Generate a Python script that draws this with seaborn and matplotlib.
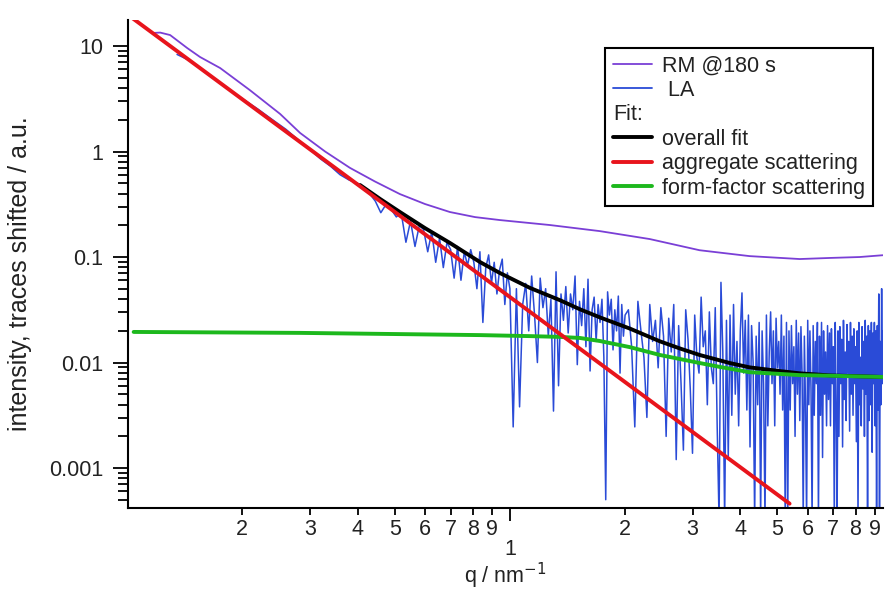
import numpy as np
import seaborn as sns
import matplotlib.pyplot as plt
from matplotlib.lines import Line2D
from matplotlib.ticker import LogLocator, FuncFormatter

# RM @180 s trace
rm_q = [0.117, 0.122, 0.1295, 0.1435, 0.155, 0.175, 0.209, 0.251, 0.283, 0.329, 0.382,
        0.444, 0.516, 0.600, 0.697, 0.811, 0.942, 1.272, 1.718, 2.32, 3.13, 4.23, 5.72,
        6.85, 8.20, 9.42]
rm_i = [13.3, 13.4, 12.7, 9.57, 7.87, 6.18, 3.83, 2.27, 1.50, 1.00, 0.70,
        0.52, 0.395, 0.318, 0.267, 0.239, 0.224, 0.201, 0.176, 0.148, 0.116, 0.102, 0.0957,
        0.098, 0.100, 0.104]

# LA trace, q values and log10 of intensity
la_q = [0.135, 0.146, 0.16, 0.18, 0.20, 0.22, 0.24, 0.26, 0.28, 0.30, 0.32, 0.34, 0.36, 0.38,
        0.400, 0.415, 0.430, 0.445, 0.460, 0.475, 0.490, 0.505, 0.520, 0.535, 0.550, 0.565,
        0.580, 0.595, 0.610, 0.625, 0.640, 0.655, 0.670, 0.685, 0.700, 0.715, 0.730, 0.745,
        0.760, 0.775, 0.790, 0.805, 0.820, 0.835, 0.850, 0.865, 0.880, 0.895, 0.910, 0.925,
        0.940, 0.955, 0.970, 0.985, 1.000,
        1.02, 1.04, 1.06, 1.08, 1.10, 1.12, 1.14, 1.16, 1.18, 1.20,
        1.22, 1.24, 1.26, 1.28, 1.30, 1.32, 1.34, 1.36, 1.38, 1.40,
        1.42, 1.44, 1.46, 1.48, 1.50, 1.52, 1.54, 1.56, 1.58, 1.60,
        1.62, 1.64, 1.66, 1.68, 1.70, 1.72, 1.74, 1.76, 1.78, 1.80,
        1.82, 1.84, 1.86, 1.88, 1.90, 1.92, 1.94, 1.96, 1.98, 2.00,
        2.04, 2.08, 2.12, 2.16, 2.20, 2.24, 2.28, 2.32, 2.36, 2.40,
        2.44, 2.48, 2.52, 2.56, 2.60, 2.64, 2.68, 2.72, 2.76, 2.80,
        2.84, 2.88, 2.92, 2.96, 3.00, 3.04, 3.08, 3.12, 3.16, 3.20,
        3.24, 3.28, 3.32, 3.36, 3.40, 3.44, 3.48, 3.52, 3.56, 3.60,
        3.64, 3.68, 3.72, 3.76, 3.80, 3.84, 3.88, 3.92, 3.96, 4.00,
        4.04, 4.08, 4.12, 4.16, 4.20, 4.24, 4.28, 4.32, 4.36, 4.40,
        4.44, 4.48, 4.52, 4.56, 4.60, 4.64, 4.68, 4.72, 4.76, 4.80,
        4.84, 4.88, 4.92, 4.96, 5.00, 5.04, 5.08, 5.12, 5.16, 5.20,
        5.24, 5.28, 5.32, 5.36, 5.40, 5.44, 5.48, 5.52, 5.56, 5.60,
        5.64, 5.68, 5.72, 5.76, 5.80, 5.84, 5.88, 5.92, 5.96, 6.00,
        6.04, 6.08, 6.12, 6.16, 6.20, 6.24, 6.28, 6.32, 6.36, 6.40,
        6.44, 6.48, 6.52, 6.56, 6.60, 6.64, 6.68, 6.72, 6.76, 6.80,
        6.84, 6.88, 6.92, 6.96, 7.00, 7.04, 7.08, 7.12, 7.16, 7.20,
        7.24, 7.28, 7.32, 7.36, 7.40, 7.44, 7.48, 7.52, 7.56, 7.60,
        7.64, 7.68, 7.72, 7.76, 7.80, 7.84, 7.88, 7.92, 7.96, 8.00,
        8.04, 8.08, 8.12, 8.16, 8.20, 8.24, 8.28, 8.32, 8.36, 8.40,
        8.44, 8.48, 8.52, 8.56, 8.60, 8.64, 8.68, 8.72, 8.76, 8.80,
        8.84, 8.88, 8.92, 8.96, 9.00, 9.04, 9.08, 9.12, 9.16, 9.20,
        9.24, 9.28, 9.32, 9.36, 9.40, 9.44]
la_log_i = [0.92, 0.86, 0.75, 0.62, 0.50, 0.40, 0.30, 0.21, 0.11, 0.02, -0.07, -0.14, -0.22, -0.27,
            -0.30, -0.36, -0.40, -0.47, -0.58, -0.50, -0.55, -0.62, -0.58, -0.86, -0.66, -0.90,
            -0.70, -0.74, -0.95, -0.76, -1.05, -0.82, -1.10, -0.86, -0.93, -1.20, -0.90, -1.22,
            -0.95, -1.08, -0.93, -1.05, -1.30, -0.95, -1.62, -1.10, -0.98, -1.25, -1.05, -1.35,
            -1.12, -1.02, -1.45, -1.15, -1.30,
            -2.61, -1.30, -2.42, -1.45, -1.25, -1.70, -1.18, -1.55, -2.00, -1.20,
            -1.48, -1.30, -1.75, -1.40, -2.46, -1.14, -2.22, -1.35, -1.60, -1.28,
            -1.72, -1.35, -1.50, -1.18, -2.02, -1.42, -1.65, -1.30, -1.85, -1.21,
            -2.08, -1.50, -1.38, -1.80, -1.45, -1.62, -1.40, -1.95, -3.30, -1.33,
            -1.55, -1.40, -1.88, -1.50, -1.70, -1.37, -2.10, -1.45, -1.75, -1.55,
            -1.50, -1.85, -2.61, -1.42, -1.70, -1.95, -2.52, -1.45, -1.80, -1.60,
            -2.05, -1.48, -1.75, -2.70, -1.58, -1.90, -1.45, -2.92, -1.65, -2.20,
            -2.83, -1.50, -1.78, -2.25, -2.86, -1.55, -1.95, -2.10, -1.38, -1.85,
            -1.70, -2.40, -1.52, -2.05, -2.20, -1.48, -2.60, -3.50, -1.24, -1.90,
            -3.50, -1.60, -2.90, -1.55, -2.50, -1.45, -2.30, -1.80, -2.60, -1.70,
            -1.34, -2.10, -1.60, -2.45, -1.55, -2.80, -1.65, -2.00, -3.50, -1.75,
            -2.40, -1.62, -3.50, -1.70, -2.20, -3.50, -1.55, -2.60, -1.90, -1.52,
            -2.20, -1.70, -2.60, -1.58, -2.05, -1.80, -2.30, -1.55, -2.45, -1.75,
            -3.50, -1.62, -3.50, -1.70, -2.45, -1.65, -2.20, -1.85, -2.70, -1.60,
            -2.30, -1.72, -2.55, -1.66, -2.10, -3.50, -1.75, -2.40, -3.50, -1.60,
            -2.40, -1.70, -2.25, -3.50, -1.65, -2.50, -1.80, -2.20, -1.62, -3.50,
            -1.75, -2.50, -1.62, -2.90, -1.70, -2.30, -1.90, -2.60, -1.65, -2.35,
            -1.72, -2.60, -1.68, -2.20, -1.85, -3.50, -1.62, -2.40, -3.50, -1.70,
            -2.70, -1.66, -2.20, -1.78, -2.80, -1.60, -2.35, -1.90, -2.55, -1.64,
            -2.10, -1.80, -2.65, -1.62, -2.30, -1.75, -2.50, -1.68, -2.20, -1.85,
            -2.75, -1.70, -3.50, -1.62, -2.40, -1.95, -2.60, -1.66, -2.25, -1.80,
            -2.70, -1.60, -2.30, -1.75, -3.50, -1.65, -2.55, -1.70, -2.40, -1.62,
            -2.85, -1.72, -2.20, -1.62, -2.60, -1.70, -3.50, -1.65, -2.45, -1.35,
            -3.50, -1.80, -2.40, -1.30, -2.20, -1.70]
la_i = 10 ** np.array(la_log_i)

# fits
fit_q = [0.406, 0.458, 0.516, 0.600, 0.697, 0.835, 0.942, 1.128, 1.351, 1.523, 1.718,
         2.057, 2.464, 2.78, 3.13, 3.75, 4.23, 5.07, 5.72, 6.85, 9.42]
fit_i = [0.481, 0.355, 0.267, 0.188, 0.136, 0.0897, 0.0705, 0.051, 0.039, 0.032, 0.0268,
         0.021, 0.0159, 0.0136, 0.0118, 0.0099, 0.0090, 0.0083, 0.0079, 0.00755, 0.0073]
agg_q = [0.1, 5.38]
agg_i = [20.0, 0.00046]
ff_q = [0.104, 0.283, 0.516, 0.835, 1.128, 1.351, 1.523, 1.718, 2.057, 2.464, 2.78,
        3.13, 3.53, 4.23, 5.07, 5.72, 6.85, 9.42]
ff_i = [0.0195, 0.0191, 0.0186, 0.0182, 0.0178, 0.0175, 0.0171, 0.0160, 0.0140, 0.0118, 0.0108,
        0.0099, 0.0091, 0.0081, 0.0078, 0.0076, 0.0075, 0.0073]

c_rm = "#7a3fd6"
c_la = "#2a4bd7"
c_fit = "#000000"
c_agg = "#e8141c"
c_ff = "#1db81d"
txt = "#222222"

sns.set_theme(style="ticks")
plt.rcParams["font.family"] = ["Liberation Sans", "DejaVu Sans"]

fig = plt.figure(figsize=(8.85, 5.91), dpi=100)
ax = fig.add_axes([0.1446, 0.1404, 0.8534, 0.8256])
ax.set_xscale("log")
ax.set_yscale("log")

sns.lineplot(x=la_q, y=la_i, ax=ax, color=c_la, linewidth=1.1, estimator=None, sort=False, zorder=1)
sns.lineplot(x=rm_q, y=rm_i, ax=ax, color=c_rm, linewidth=1.3, estimator=None, sort=False, zorder=2)
sns.lineplot(x=fit_q, y=fit_i, ax=ax, color=c_fit, linewidth=2.8, estimator=None, sort=False, zorder=3)
sns.lineplot(x=ff_q, y=ff_i, ax=ax, color=c_ff, linewidth=2.8, estimator=None, sort=False, zorder=4)
sns.lineplot(x=agg_q, y=agg_i, ax=ax, color=c_agg, linewidth=2.8, estimator=None, sort=False, zorder=5)

ax.set_xlim(0.1005, 9.45)
ax.set_ylim(4.18e-4, 17.6)

ax.xaxis.set_major_locator(LogLocator(base=10, numticks=10))
ax.xaxis.set_minor_locator(LogLocator(base=10, subs=range(2, 10), numticks=30))
ax.xaxis.set_major_formatter(FuncFormatter(lambda v, p: "1" if abs(v - 1) < 1e-9 else ""))
ax.xaxis.set_minor_formatter(FuncFormatter(
    lambda v, p: "%d" % round(v / 10 ** np.floor(np.log10(v) + 1e-9))))
ax.yaxis.set_major_locator(LogLocator(base=10, numticks=10))
ax.yaxis.set_minor_locator(LogLocator(base=10, subs=range(2, 10), numticks=30))
ax.yaxis.set_major_formatter(FuncFormatter(lambda v, p: "%g" % v))

for s in ["top", "right"]:
    ax.spines[s].set_visible(False)
for s in ["left", "bottom"]:
    ax.spines[s].set_linewidth(1.5)
    ax.spines[s].set_color("black")

ax.tick_params(axis="y", which="major", length=11, width=1.3, pad=7, labelsize=15.5,
               color="black", labelcolor=txt)
ax.tick_params(axis="y", which="minor", length=7, width=1.3, color="black")
ax.tick_params(axis="x", which="minor", length=5, width=1.3, pad=3, labelsize=15.5,
               color="black", labelcolor=txt)
ax.tick_params(axis="x", which="major", length=9, width=1.3, pad=13, labelsize=15.5,
               color="black", labelcolor=txt)

ax.set_ylabel("intensity, traces shifted / a.u.", fontsize=18, color=txt)
ax.yaxis.set_label_coords(-0.127, 0.48)
ax.set_xlabel("q / nm$^{-1}$", fontsize=15.5, color=txt, labelpad=1)

handles = [
    Line2D([], [], color=c_rm, lw=1.3),
    Line2D([], [], color=c_la, lw=1.3),
    Line2D([], [], color="none", lw=0),
    Line2D([], [], color=c_fit, lw=2.8),
    Line2D([], [], color=c_agg, lw=2.8),
    Line2D([], [], color=c_ff, lw=2.8),
]
labels = ["RM @180 s", " LA", "Fit:", "overall fit", "aggregate scattering", "form-factor scattering"]
leg = ax.legend(handles, labels, loc="upper left", bbox_to_anchor=(0.632, 0.943),
                borderaxespad=0, fontsize=15.5, frameon=True, fancybox=False,
                edgecolor="black", framealpha=1, labelspacing=0.16, handlelength=1.8,
                handletextpad=0.5, borderpad=0.35)
leg.get_frame().set_linewidth(1.5)
for t in leg.get_texts():
    t.set_color(txt)

# "Fit:" sits flush left, without a line sample
try:
    col = leg._legend_handle_box.get_children()[0]
    for row in col.get_children():
        kids = row.get_children()
        if len(kids) == 2 and hasattr(kids[1], "get_text") and kids[1].get_text() == "Fit:":
            row._children = [kids[1]]
except Exception:
    pass

fig.savefig("out.png", dpi=100)
